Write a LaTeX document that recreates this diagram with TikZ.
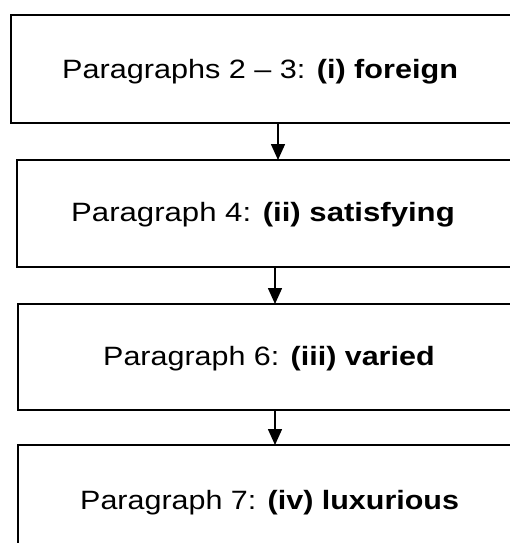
\documentclass[tikz,border=0pt]{standalone}
\usepackage{fontspec}
\setmainfont{Liberation Sans}
\usetikzlibrary{arrows.meta}
\newcommand{\wide}[2][1.15]{\scalebox{#1}[1]{#2}}
\begin{document}
\begin{tikzpicture}[x=1pt,y=-1pt,
  boxline/.style={line width=1.6pt},
  lbl/.style={font=\fontsize{26.5}{30}\selectfont, inner sep=0pt, anchor=base west},
  conn/.style={line width=1.6pt, -{Triangle[width=14pt,length=16pt]}}]
\useasboundingbox (0,0) rectangle (509,543);
\draw[boxline] (560,15) -- (11,15) -- (11,123) -- (560,123);
\draw[boxline] (560,160) -- (17,160) -- (17,267) -- (560,267);
\draw[boxline] (560,304) -- (18,304) -- (18,410) -- (560,410);
\draw[boxline] (560,445) -- (18,445) -- (18,600);
\node[lbl] (t1) at (62,78) {\wide[1.155]{Paragraphs 2 -- 3: \textbf{(i) foreign}}};
\node[lbl] (t2) at (71,221) {\wide[1.175]{Paragraph 4: \textbf{(ii) satisfying}}};
\node[lbl] (t3) at (103,365) {\wide{Paragraph 6: \textbf{(iii) varied}}};
\node[lbl] (t4) at (80,509) {\wide{Paragraph 7: \textbf{(iv) luxurious}}};
\coordinate (b1) at (278,123);
\coordinate (a2) at (278,160);
\coordinate (b2) at (275,267);
\coordinate (a3) at (275,304);
\coordinate (b3) at (275,410);
\coordinate (a4) at (275,445);
\draw[conn] (b1) -- (a2);
\draw[conn] (b2) -- (a3);
\draw[conn] (b3) -- (a4);
\end{tikzpicture}
\end{document}
